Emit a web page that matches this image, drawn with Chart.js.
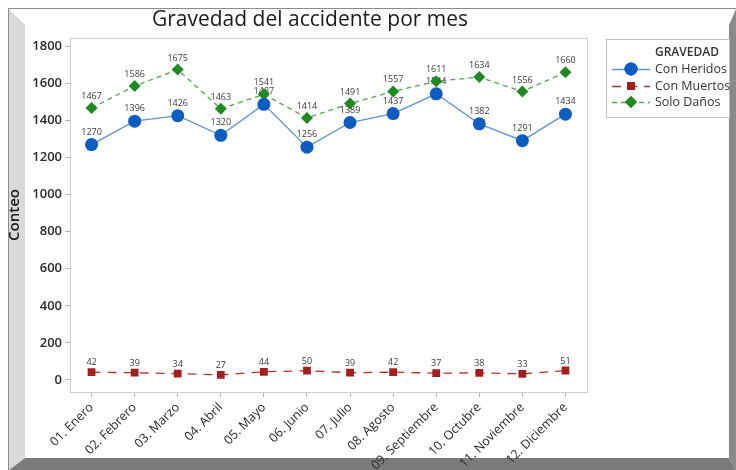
<!DOCTYPE html>
<html lang="es">
<head>
  <meta charset="UTF-8">
  <title>Gravedad del accidente por mes</title>
  <script src="https://cdn.jsdelivr.net/npm/chart.js"></script>
  <style>
    body {
      margin: 0;
      background: #ffffff;
    }
    canvas {
      display: block;
    }
  </style>
</head>
<body>
  <canvas id="grafico" width="736" height="470"></canvas>

  <script>
    // Datos por mes
    const meses = ['01. Enero', '02. Febrero', '03. Marzo', '04. Abril', '05. Mayo', '06. Junio',
                   '07. Julio', '08. Agosto', '09. Septiembre', '10. Octubre', '11. Noviembre', '12. Diciembre'];
    const conHeridos = [1270, 1396, 1426, 1320, 1487, 1256, 1389, 1437, 1544, 1382, 1291, 1434];
    const conMuertos = [42, 39, 34, 27, 44, 50, 39, 42, 37, 38, 33, 51];
    const soloDanos  = [1467, 1586, 1675, 1463, 1541, 1414, 1491, 1557, 1611, 1634, 1556, 1660];
    const yTicks = [0, 200, 400, 600, 800, 1000, 1200, 1400, 1600, 1800];

    const fuente = '"Open Sans", "Noto Sans", sans-serif';

    // Marco con bisel alrededor del gráfico
    const marco = {
      id: 'marco',
      beforeDraw(chart) {
        const c = chart.ctx;
        const W = chart.width, H = chart.height;
        c.save();
        c.fillStyle = '#ffffff';
        c.fillRect(0, 0, W, H);
        // bisel izquierdo
        c.fillStyle = '#d9d9d9';
        c.beginPath();
        c.moveTo(9, 9); c.lineTo(25, 25); c.lineTo(25, 458); c.lineTo(9, 470);
        c.closePath(); c.fill();
        // bisel derecho
        c.fillStyle = '#8a8a8a';
        c.beginPath();
        c.moveTo(W, 9); c.lineTo(W, H); c.lineTo(729, 458); c.lineTo(729, 25);
        c.closePath(); c.fill();
        // bisel inferior
        c.fillStyle = '#7b7b7b';
        c.beginPath();
        c.moveTo(9, H); c.lineTo(25, 458); c.lineTo(729, 458); c.lineTo(W, H);
        c.closePath(); c.fill();
        // línea exterior
        c.strokeStyle = '#8c8c8c';
        c.lineWidth = 1;
        c.beginPath();
        c.moveTo(8.5, H); c.lineTo(8.5, 8.5); c.lineTo(W, 8.5);
        c.stroke();

        // título
        c.fillStyle = '#1a1a1a';
        c.font = '21px ' + fuente;
        c.textAlign = 'center';
        c.textBaseline = 'middle';
        c.fillText('Gravedad del accidente por mes', 310, 20);
        c.restore();
      },
      beforeDatasetsDraw(chart) {
        // recuadro del área de datos
        const a = chart.chartArea;
        const c = chart.ctx;
        c.save();
        c.strokeStyle = '#cfcfcf';
        c.lineWidth = 1;
        c.strokeRect(Math.round(a.left) + 0.5, Math.round(a.top) + 0.5,
                     Math.round(a.right - a.left), Math.round(a.bottom - a.top));

        // etiquetas de valores (debajo de los marcadores)
        c.font = '9px ' + fuente;
        c.fillStyle = '#3a3a3a';
        c.textAlign = 'center';
        c.textBaseline = 'bottom';
        chart.data.datasets.forEach((ds, i) => {
          const meta = chart.getDatasetMeta(i);
          meta.data.forEach((pt, j) => {
            c.fillText(ds.data[j], pt.x, pt.y - ds.desplazamiento);
          });
        });
        c.restore();
      },
      afterDraw(chart) {
        // leyenda
        const c = chart.ctx;
        c.save();
        c.fillStyle = '#ffffff';
        c.fillRect(606, 39, 123, 78);
        c.strokeStyle = '#bdbdbd';
        c.lineWidth = 1;
        c.strokeRect(606.5, 39.5, 123, 78);

        c.fillStyle = '#333333';
        c.textAlign = 'left';
        c.textBaseline = 'middle';
        c.font = '600 12px ' + fuente;
        c.fillText('GRAVEDAD', 655, 53);
        c.font = '12.5px ' + fuente;

        const filas = [69, 86, 102];
        chart.data.datasets.forEach((ds, i) => {
          const y = filas[i];
          c.save();
          c.strokeStyle = ds.borderColor;
          c.lineWidth = ds.borderWidth;
          c.setLineDash(ds.borderDash || []);
          c.beginPath();
          c.moveTo(612, y + 0.5); c.lineTo(650, y + 0.5);
          c.stroke();
          c.restore();
          c.fillStyle = ds.pointBackgroundColor;
          Chart.helpers.drawPoint(c, {
            pointStyle: ds.pointStyle,
            radius: ds.pointRadius,
            borderWidth: 0,
            rotation: 0
          }, 631, y);
          c.fill();
          c.fillStyle = '#333333';
          c.fillText(ds.label, 655, y);
        });
        c.restore();
      }
    };

    const ctx = document.getElementById('grafico').getContext('2d');

    new Chart(ctx, {
      type: 'line',
      data: {
        labels: meses,
        datasets: [{
          label: 'Con Heridos',
          data: conHeridos,
          borderColor: '#6094d6',
          borderWidth: 1.3,
          pointStyle: 'circle',
          pointRadius: 6.5,
          pointBackgroundColor: '#0d5cc0',
          pointBorderColor: '#0d5cc0',
          pointBorderWidth: 0,
          desplazamiento: 8
        }, {
          label: 'Con Muertos',
          data: conMuertos,
          borderColor: '#b83232',
          borderWidth: 1.3,
          borderDash: [9, 7],
          pointStyle: 'rect',
          pointRadius: 5.5,
          pointBackgroundColor: '#a31e1e',
          pointBorderColor: '#a31e1e',
          pointBorderWidth: 0,
          desplazamiento: 5
        }, {
          label: 'Solo Daños',
          data: soloDanos,
          borderColor: '#4ea84e',
          borderWidth: 1.3,
          borderDash: [5, 4],
          pointStyle: 'rectRot',
          pointRadius: 6,
          pointBackgroundColor: '#1f8a22',
          pointBorderColor: '#1f8a22',
          pointBorderWidth: 0,
          desplazamiento: 7
        }]
      },
      options: {
        responsive: false,
        animation: false,
        devicePixelRatio: 1,
        layout: {
          padding: { top: 38, right: 149, bottom: 0, left: 0 }
        },
        plugins: {
          legend: { display: false },
          title: { display: false },
          tooltip: { enabled: false }
        },
        scales: {
          x: {
            type: 'category',
            offset: true,
            grid: {
              display: true,
              drawOnChartArea: false,
              tickLength: 5,
              color: '#b5b5b5'
            },
            border: { color: '#cfcfcf' },
            ticks: {
              minRotation: 45,
              maxRotation: 45,
              autoSkip: false,
              color: '#2a2a2a',
              font: { family: fuente, size: 12.5 }
            },
            afterFit(s) { s.height = 78; }
          },
          y: {
            min: -65,
            max: 1845,
            afterBuildTicks(s) {
              s.ticks = yTicks.map(v => ({ value: v }));
            },
            grid: {
              display: true,
              drawOnChartArea: false,
              tickLength: 5,
              color: '#b5b5b5'
            },
            border: { color: '#cfcfcf' },
            ticks: {
              padding: 3,
              color: '#2a2a2a',
              font: { family: fuente, size: 13, weight: '600' },
              callback: v => String(v)
            },
            title: {
              display: true,
              text: 'Conteo',
              color: '#1a1a1a',
              font: { family: fuente, size: 15, weight: '600' },
              padding: { top: 6, bottom: 0 }
            },
            afterFit(s) { s.width = 70; }
          }
        }
      },
      plugins: [marco]
    });
  </script>
</body>
</html>
